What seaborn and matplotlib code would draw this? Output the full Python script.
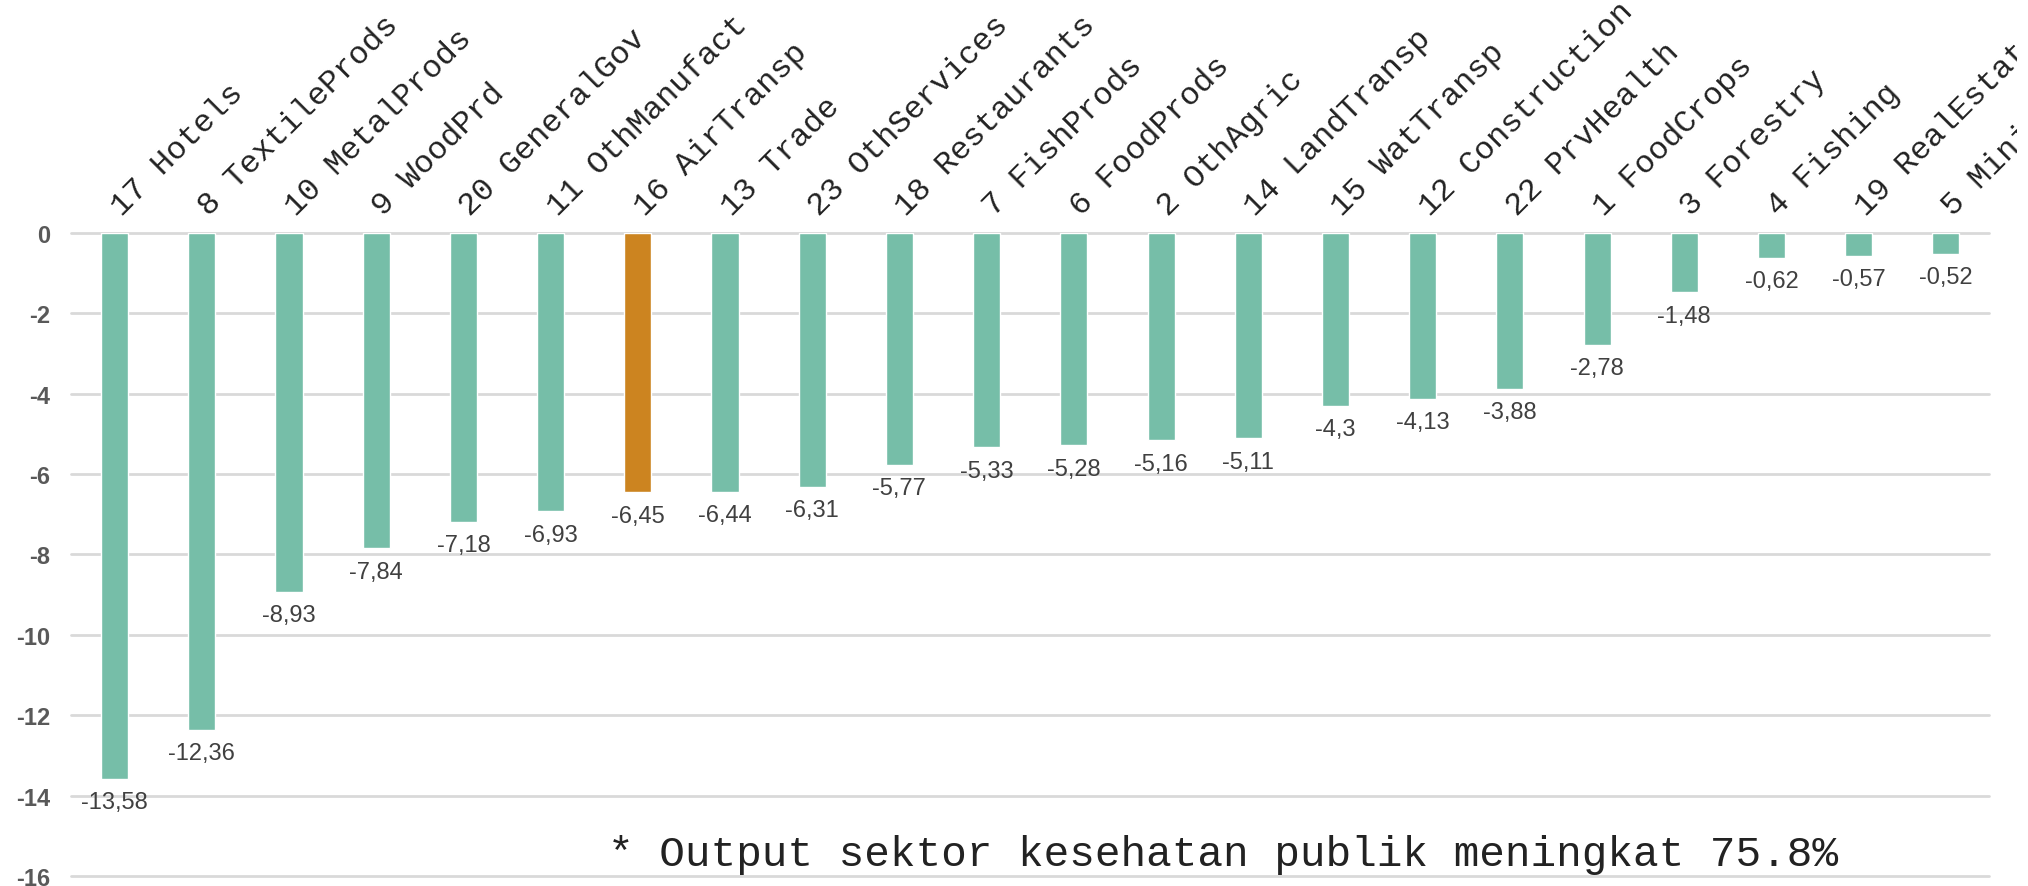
import matplotlib
matplotlib.use("Agg")
import matplotlib.pyplot as plt
from matplotlib.transforms import Bbox, TransformedBbox
import seaborn as sns
import pandas as pd

sectors = ["17 Hotels", "8 TextileProds", "10 MetalProds", "9 WoodPrd", "20 GeneralGov",
           "11 OthManufact", "16 AirTransp", "13 Trade", "23 OthServices", "18 Restaurants",
           "7 FishProds", "6 FoodProds", "2 OthAgric", "14 LandTransp", "15 WatTransp",
           "12 Construction", "22 PrvHealth", "1 FoodCrops", "3 Forestry", "4 Fishing",
           "19 RealEstate", "5 Mining"]
values = [-13.58, -12.36, -8.93, -7.84, -7.18, -6.93, -6.45, -6.44, -6.31, -5.77,
          -5.33, -5.28, -5.16, -5.11, -4.3, -4.13, -3.88, -2.78, -1.48, -0.62,
          -0.57, -0.52]
highlight = "16 AirTransp"
y_ticks = [0, -2, -4, -6, -8, -10, -12, -14, -16]
note = "* Output sektor kesehatan publik meningkat 75.8%"

GREEN = "#76BEA8"
ORANGE = "#CC8420"
MONO = ["Liberation Mono", "DejaVu Sans Mono"]

sns.set_theme(style="white")
plt.rcParams["font.family"] = ["Liberation Sans", "DejaVu Sans"]

df = pd.DataFrame({"sector": sectors, "value": values})
df["group"] = ["hl" if s == highlight else "base" for s in sectors]

fig = plt.figure(figsize=(20.28, 8.87), dpi=100)
ax = fig.add_axes([0.035, 0.0113, 0.946, 0.7249])

sns.barplot(data=df, x="sector", y="value", hue="group",
            palette={"base": GREEN, "hl": ORANGE}, dodge=False,
            width=0.31, legend=False, ax=ax, saturation=1)

for cont in ax.containers:
    labs = []
    for b in cont:
        h = b.get_height()
        if h != h or b.get_width() == 0:
            labs.append("")
        else:
            labs.append(f"{h:g}".replace(".", ","))
    ax.bar_label(cont, labels=labs, padding=9, fontsize=17, color="#404040")

ax.set_ylim(-16, 0)
ax.set_yticks(y_ticks)
ax.set_yticklabels([str(t) for t in y_ticks], fontsize=17, fontweight="bold", color="#595959")
ax.yaxis.grid(True, color="#D9D9D9", linewidth=2)
ax.set_axisbelow(True)
for g in ax.get_ygridlines():
    g.set_clip_on(False)
ax.tick_params(axis="y", length=0, pad=15)

# category labels above the zero line, rotated 45 degrees (clipped at chart area edge)
clip = TransformedBbox(Bbox([[0, 0], [0.9945, 1]]), fig.transFigure)
ax.set_xticks(range(len(sectors)))
ax.set_xticklabels([])
ax.tick_params(axis="x", length=0)
for i, name in enumerate(sectors):
    t = ax.annotate(name, xy=(i, 1), xycoords=("data", "axes fraction"),
                    xytext=(5, 12), textcoords="offset points",
                    rotation=45, rotation_mode="anchor", ha="left", va="baseline",
                    fontsize=23, family=MONO, color="#222222", annotation_clip=False)
    t.set_clip_on(True)
    t.set_clip_box(clip)

ax.set_xlabel("")
ax.set_ylabel("")
for s in ax.spines.values():
    s.set_visible(False)

ax.text(0.28, 0.017, note, transform=ax.transAxes, fontsize=30.8,
        family=MONO, color="#222222", ha="left", va="baseline")

fig.savefig("out.png", dpi=100)
